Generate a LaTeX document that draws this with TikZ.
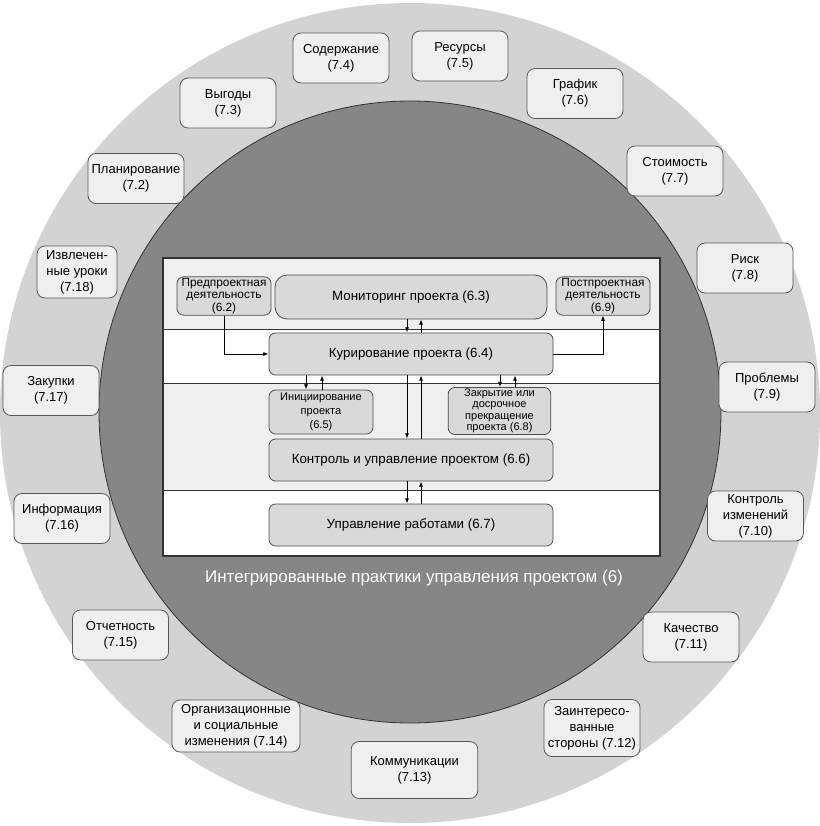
\documentclass[tikz,border=0pt]{standalone}
\usepackage{fontspec}
\setmainfont{Liberation Sans}
\usetikzlibrary{arrows.meta,shapes,positioning}

\definecolor{ringgray}{HTML}{D3D3D3}
\definecolor{coregray}{HTML}{868686}
\definecolor{bandgray}{HTML}{EFEFEF}
\definecolor{topicfill}{HTML}{EFEFEF}
\definecolor{stagefill}{HTML}{D9D9D9}

\begin{document}
\begin{tikzpicture}[x=0.75pt, y=-0.75pt, >={Latex[length=4pt,width=3pt]},
    every node/.style={font=\fontsize{9.75}{12}\selectfont, align=center},
    topic/.style={draw=black!65, fill=topicfill, rounded corners=6pt, line width=0.6pt,
        minimum width=72pt, minimum height=37.5pt, inner sep=1pt},
    stage/.style={draw=black!70, fill=stagefill, rounded corners=5pt, line width=0.6pt,
        minimum width=213pt, minimum height=31.5pt, inner sep=1pt,
        font=\fontsize{10}{12}\selectfont},
    side/.style={stage, minimum width=70.5pt, minimum height=28.5pt,
        font=\fontsize{8.9}{9.4}\selectfont},
    flow/.style={->, line width=0.6pt}]
    \useasboundingbox (0,0) rectangle (820,826);

    % Rings
    \fill[ringgray] (410,413) circle [radius=307.5pt];
    \draw[fill=coregray, draw=black!80, line width=0.6pt] (410,412) circle [radius=233.25pt];

    % Bands
    \fill[bandgray] (163,258) rectangle (660,329);
    \fill[white] (163,329) rectangle (660,383);
    \fill[bandgray] (163,383) rectangle (660,490);
    \fill[white] (163,490) rectangle (660,556);
    \draw[black!80, line width=0.6pt] (163,329) -- (660,329) (163,383) -- (660,383) (163,490) -- (660,490);
    \draw[black!80, line width=0.8pt] (163,258) rectangle (660,556);

    % Practices (6.x)
    \node[side] (pre) at (224,296) {Предпроектная\\деятельность\\(6.2)};
    \node[stage, rounded corners=9pt, minimum width=204pt, minimum height=33pt] (mon) at (411,297) {Мониторинг проекта (6.3)};
    \node[side] (post) at (603,296) {Постпроектная\\деятельность\\(6.9)};
    \node[stage] (kur) at (411,354) {Курирование проекта (6.4)};
    \node[stage, minimum width=78pt, minimum height=33pt, font=\fontsize{8.3}{10.5}\selectfont] (init) at (321,412) {Инициирование\\проекта\\(6.5)};
    \node[stage, minimum width=77pt, minimum height=34.5pt, font=\fontsize{8.25}{8.6}\selectfont] (close) at (499.5,411) {Закрытие или\\досрочное\\прекращение\\проекта (6.8)};
    \node[stage] (ctrl) at (411,460) {Контроль и управление проектом (6.6)};
    \node[stage] (work) at (411,525) {Управление работами (6.7)};

    \node[text=white, font=\fontsize{12.75}{15}\selectfont] (title) at (414,578) {Интегрированные практики управления проектом (6)};

    % Links
    \coordinate (dn) at (407,0);
    \coordinate (up) at (421,0);
    \coordinate (dnA) at (306,0);
    \coordinate (upA) at (322,0);
    \coordinate (dnB) at (500,0);
    \coordinate (upB) at (515,0);
    \draw[flow] (mon.south -| dn) -- (kur.north -| dn);
    \draw[flow] (kur.north -| up) -- (mon.south -| up);
    \draw[flow] (pre.south) |- (kur.west);
    \draw[flow] (kur.east) -| (post.south);
    \draw[flow] (kur.south -| dnA) -- (init.north -| dnA);
    \draw[flow] (init.north -| upA) -- (kur.south -| upA);
    \draw[flow] (kur.south -| dnB) -- (close.north -| dnB);
    \draw[flow] (close.north -| upB) -- (kur.south -| upB);
    \draw[flow] (kur.south -| dn) -- (ctrl.north -| dn);
    \draw[flow] (ctrl.north -| up) -- (kur.south -| up);
    \draw[flow] (ctrl.south -| dn) -- (work.north -| dn);
    \draw[flow] (work.north -| up) -- (ctrl.south -| up);

    % Areas (7.x)
    \node[topic] (plan) at (136,178.5) {Планирование\\(7.2)};
    \node[topic] (benefit) at (228,103) {Выгоды\\(7.3)};
    \node[topic] (content) at (341,58) {Содержание\\(7.4)};
    \node[topic] (resource) at (460,56) {Ресурсы\\(7.5)};
    \node[topic] (sched) at (575,93.5) {График\\(7.6)};
    \node[topic] (cost) at (675,171) {Стоимость\\(7.7)};
    \node[topic] (risk) at (745,268) {Риск\\(7.8)};
    \node[topic] (issue) at (767,387) {Проблемы\\(7.9)};
    \node[topic] (change) at (755.5,516) {Контроль\\изменений\\(7.10)};
    \node[topic] (quality) at (691,637) {Качество\\(7.11)};
    \node[topic, minimum height=42.75pt] (stake) at (592,728) {Заинтересо-\\ванные\\стороны (7.12)};
    \node[topic, minimum width=95pt, minimum height=42.75pt] (comm) at (414.5,770) {Коммуникации\\(7.13)};
    \node[topic, minimum width=96pt, minimum height=39pt] (org) at (236,726) {Организационные\\и социальные\\изменения (7.14)};
    \node[topic] (report) at (120.5,635) {Отчетность\\(7.15)};
    \node[topic] (info) at (62,518.5) {Информация\\(7.16)};
    \node[topic] (procure) at (51,390.5) {Закупки\\(7.17)};
    \node[topic, minimum width=60pt, minimum height=39pt] (lesson) at (77,272) {Извлечен-\\ные уроки\\(7.18)};
\end{tikzpicture}
\end{document}
